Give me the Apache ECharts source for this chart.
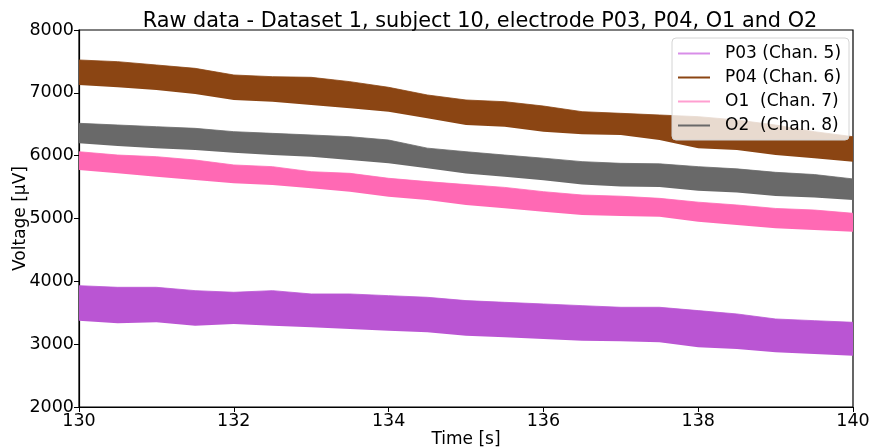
<!DOCTYPE html>
<html><head><meta charset="utf-8">
<script src="https://cdn.jsdelivr.net/npm/echarts@6/dist/echarts.min.js"></script>
<style>html,body{margin:0;padding:0;background:#fff}#c{width:871px;height:448px}</style>
</head><body><div id="c"></div>
<script>
// time samples (s)
const times = [130,130.5,131,131.5,132,132.5,133,133.5,134,134.5,135,135.5,136,136.5,137,137.5,138,138.5,139,139.5,140];
const xTicks = [130,132,134,136,138,140];
const yTicks = [2000,3000,4000,5000,6000,7000,8000];
// envelopes of the raw signals (µV)
const p03Upper = [3931,3905,3905,3852,3826,3852,3799,3799,3772,3746,3693,3666,3640,3613,3587,3587,3534,3481,3401,3374,3348];
const p03Lower = [3374,3332,3348,3295,3321,3295,3268,3242,3215,3189,3135,3109,3082,3056,3045,3029,2950,2923,2870,2844,2817];
const p04Upper = [7523,7496,7443,7390,7284,7257,7247,7178,7088,6966,6886,6859,6790,6700,6674,6647,6621,6568,6488,6382,6302];
const p04Lower = [7125,7088,7045,6981,6886,6859,6806,6753,6700,6594,6488,6461,6382,6340,6329,6249,6117,6090,6010,5958,5905];
const o1Upper  = [6063,6010,5984,5931,5852,5825,5745,5719,5640,5587,5540,5495,5427,5374,5355,5321,5260,5215,5160,5135,5083];
const o1Lower  = [5772,5719,5666,5613,5560,5533,5481,5427,5348,5295,5215,5162,5109,5056,5040,5029,4950,4897,4844,4817,4791];
const o2Upper  = [6515,6488,6461,6435,6382,6355,6329,6302,6249,6120,6063,6010,5960,5905,5878,5870,5825,5790,5735,5700,5630];
const o2Lower  = [6196,6154,6117,6090,6048,6010,5984,5931,5878,5799,5715,5666,5610,5540,5510,5500,5440,5415,5360,5335,5295];
const names = ['P03 (Chan. 5)','P04 (Chan. 6)','O1  (Chan. 7)','O2  (Chan. 8)'];
const colors = ['#BA55D3','#8B4513','#FF69B4','#696969'];
const legendColors = ['#d88ee8','#8B4513','#ff9fd0','#696969'];
const channels = [[p03Lower,p03Upper],[p04Lower,p04Upper],[o1Lower,o1Upper],[o2Lower,o2Upper]];

const FONT = 'DejaVu Sans';
const series = [];
channels.forEach(([lo,hi],i)=>{
  series.push({type:'line',stack:'s'+i,data:lo,symbol:'none',silent:true,
    lineStyle:{width:0,opacity:0},areaStyle:{opacity:0},z:2+i});
  series.push({name:names[i],type:'line',stack:'s'+i,data:hi.map((v,k)=>v-lo[k]),symbol:'none',silent:true,
    lineStyle:{width:0.8,color:colors[i]},itemStyle:{color:colors[i]},
    areaStyle:{color:colors[i],opacity:1},z:2+i});
});

const chart = echarts.init(document.getElementById('c'),null,{renderer:'canvas'});
chart.setOption({
  animation:false,
  backgroundColor:'#fff',
  title:{text:'Raw data - Dataset 1, subject 10, electrode P03, P04, O1 and O2',left:475,top:6,textAlign:'center',
    textStyle:{fontFamily:FONT,fontSize:20.8,fontWeight:'normal',color:'#000'}},
  grid:{left:79,right:18,top:30,bottom:41,containLabel:false,outerBoundsMode:'none',
    show:true,borderColor:'#000',borderWidth:1.2,backgroundColor:'transparent'},
  legend:{left:672,top:38,orient:'vertical',itemWidth:32,itemHeight:2,itemGap:5,icon:'rect',
    backgroundColor:'rgba(255,255,255,0.8)',borderColor:'#d4d4d4',borderWidth:1,borderRadius:4,padding:[6,8,5,6],
    textStyle:{fontFamily:FONT,fontSize:17,color:'#000',padding:[0,0,0,10],lineHeight:19},
    data:names.map((n,i)=>({name:n,itemStyle:{color:legendColors[i]}}))},
  xAxis:{type:'category',data:times,boundaryGap:false,
    name:'Time [s]',nameLocation:'middle',nameGap:24,nameMoveOverlap:false,nameTextStyle:{fontFamily:FONT,fontSize:17,color:'#000'},
    axisLine:{show:true,lineStyle:{color:'#000',width:1.2}},
    axisTick:{show:true,interval:(idx,val)=>xTicks.includes(+val),length:5,lineStyle:{color:'#000'}},
    axisLabel:{interval:(idx,val)=>xTicks.includes(+val),fontFamily:FONT,fontSize:17.5,color:'#000',margin:5},
    splitLine:{show:false}},
  yAxis:{type:'value',min:yTicks[0],max:yTicks[yTicks.length-1],interval:1000,
    name:'Voltage [μV]',nameLocation:'middle',nameGap:50,nameMoveOverlap:false,nameTextStyle:{fontFamily:FONT,fontSize:17,color:'#000'},
    axisLine:{show:true,lineStyle:{color:'#000',width:1.2}},
    axisTick:{show:true,length:5,lineStyle:{color:'#000'}},
    axisLabel:{fontFamily:FONT,fontSize:17.5,color:'#000',margin:5,formatter:v=>String(v)},
    splitLine:{show:false}},
  series:series
});
</script></body></html>
